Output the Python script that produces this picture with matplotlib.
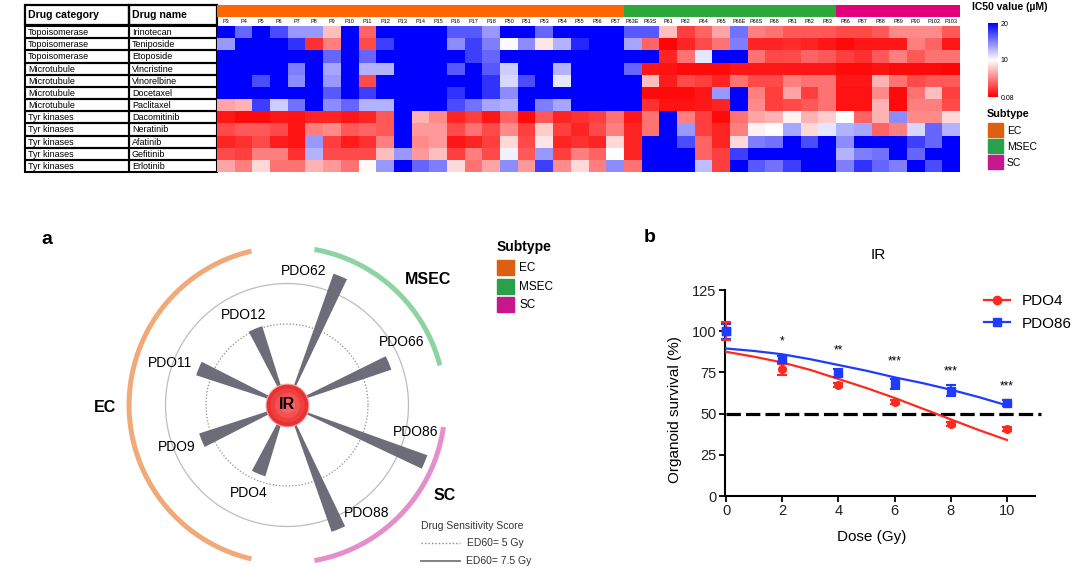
import numpy as np
import matplotlib
matplotlib.use('Agg')
import matplotlib.pyplot as plt
from matplotlib.colors import LinearSegmentedColormap, TwoSlopeNorm, ListedColormap
from matplotlib.patches import Rectangle
from matplotlib.lines import Line2D
import matplotlib.cm as cm

plt.rcParams['font.family'] = ['Liberation Sans', 'DejaVu Sans']

W, H = 1080, 571

# ---------------- data: heatmap ----------------
drug_category = ['Topoisomerase'] * 3 + ['Microtubule'] * 4 + ['Tyr kinases'] * 5
drug_name = ['Irinotecan', 'Teniposide', 'Etoposide', 'Vincristine', 'Vinorelbine',
             'Docetaxel', 'Paclitaxel', 'Dacomitinib', 'Neratinib', 'Afatinib',
             'Gefitinib', 'Erlotinib']

samples_ec = ['P3', 'P4', 'P5', 'P6', 'P7', 'P8', 'P9', 'P10', 'P11', 'P12', 'P13', 'P14',
              'P15', 'P16', 'P17', 'P18', 'P50', 'P51', 'P53', 'P54', 'P55', 'P56', 'P57']
samples_msec = ['P63E', 'P63S', 'P61', 'P62', 'P64', 'P65', 'P66E', 'P66S', 'P68',
                'P81', 'P82', 'P83']
samples_sc = ['P86', 'P87', 'P88', 'P89', 'P90', 'P102', 'P103']

# IC50 (uM), one row per drug
ic50_ec = [
    [20, 16, 20, 17, 14, 14, 7.5, 20, 4, 20, 20, 20, 20, 16.5, 16.5, 14, 20, 20, 16, 20, 20, 20, 20],
    [14, 20, 20, 20, 18, 2, 5, 20, 3, 17.5, 20, 20, 20, 14.5, 17.5, 15, 10.2, 14.5, 9, 13, 18.5, 20, 20],
    [20, 20, 20, 20, 20, 20, 16, 20, 16, 20, 20, 20, 20, 20, 17.5, 16, 20, 20, 20, 20, 20, 20, 20],
    [20, 20, 20, 20, 15, 20, 13.5, 20, 13, 13, 20, 20, 20, 16.5, 20, 16.5, 12, 20, 20, 13, 20, 20, 20],
    [20, 20, 17, 20, 14.5, 20, 14, 20, 3, 20, 20, 20, 20, 20, 20, 18, 11.5, 17, 20, 11, 20, 20, 20],
    [20, 20, 20, 20, 20, 20, 16.5, 20, 17.5, 20, 20, 20, 20, 18, 20, 18, 14.5, 20, 20, 20, 20, 20, 20],
    [6.5, 7, 17.5, 12, 15.5, 20, 14.5, 16, 13, 13, 20, 20, 20, 17, 15.5, 13.5, 13, 20, 15, 13.5, 20, 20, 20],
    [1, 0.5, 0.5, 1, 0.8, 1.5, 1.5, 1, 1.5, 3.5, 20, 7, 5.5, 1.5, 2.5, 1, 4, 0.5, 3.5, 1.5, 2, 2.5, 4.5],
    [3, 3.5, 3.5, 3, 0.8, 5, 5.5, 3.5, 4, 3.5, 20, 6, 6, 3, 4.5, 3, 5.5, 2.5, 8, 2.5, 1.5, 3, 5],
    [1.5, 2, 3, 1.2, 0.8, 14, 2.5, 1.2, 2, 5, 20, 5.5, 6, 1, 1.5, 2.5, 8.5, 3, 9, 1.5, 2, 1.5, 8.5],
    [3, 2.5, 5, 5, 2, 13, 3, 3, 3, 7.5, 14, 6, 7.5, 2.5, 5, 3, 10.5, 3.5, 14, 2.5, 5, 4, 10],
    [6.5, 5, 8.5, 4.5, 4.5, 7, 6, 4.5, 9.8, 14, 20, 16, 15, 8.5, 4.5, 6.5, 14.5, 6, 17.5, 5.5, 8.5, 5, 14.5],
]
ic50_msec = [
    [16.5, 16.5, 7.5, 2.5, 4, 6.5, 15.5, 5, 4.5, 3.5, 3.5, 3.5],
    [13.5, 4, 0.3, 1.5, 3, 4.5, 15, 1.5, 1.5, 1.8, 1.5, 1],
    [20, 20, 1.5, 4.5, 11, 20, 20, 4.5, 3, 3, 4, 3.5],
    [16, 1, 0.8, 0.5, 0.5, 0.5, 1, 1, 1, 1, 1, 1],
    [20, 7.5, 1.2, 3, 2.5, 1.5, 4.5, 3, 3, 5, 4.5, 4.5],
    [20, 0.5, 0.5, 0.5, 1, 14, 20, 5, 2.5, 6.5, 2.5, 4.5],
    [20, 2, 0.8, 0.8, 1, 1.5, 20, 5.5, 2.5, 3, 3.5, 4.5],
    [1, 4.5, 20, 5, 2.5, 0.5, 4.5, 6.5, 7, 9.5, 7, 8],
    [1.5, 4.5, 20, 14, 2.5, 1.5, 5, 9.5, 10, 13.5, 8.5, 11],
    [1.5, 20, 20, 17, 4, 1.5, 8.5, 15, 15.5, 20, 17, 20],
    [1.5, 20, 20, 20, 4, 2.5, 17.5, 20, 20, 20, 20, 20],
    [4.5, 20, 20, 20, 12.5, 2.5, 20, 16.5, 15.5, 17.5, 20, 20],
]
ic50_sc = [
    [3, 3, 3.5, 5.5, 5.5, 5.5, 3.5],
    [0.5, 1, 1, 1, 5, 4, 1],
    [2.5, 2, 3.5, 5, 3.5, 4.5, 4.5],
    [0.5, 0.5, 0.8, 0.5, 0.5, 0.5, 0.3],
    [1, 1, 7, 4.5, 3, 3.5, 3.5],
    [0.8, 0.8, 5.5, 0.5, 4.5, 7.5, 2.5],
    [0.8, 0.8, 7, 0.5, 5, 5, 3],
    [10, 4, 7, 14.5, 5.5, 5.5, 8.5],
    [13, 13.5, 4, 5, 11.5, 16, 13],
    [14.5, 20, 20, 20, 17.5, 16, 20],
    [13, 15, 15.5, 20, 16, 20, 20],
    [15, 18, 16, 15, 20, 17, 20],
]

subtypes = ['EC', 'MSEC', 'SC']

# ---------------- data: panel a ----------------
pdo_names = ['PDO66', 'PDO62', 'PDO12', 'PDO11', 'PDO9', 'PDO4', 'PDO88', 'PDO86']
pdo_ed60 = [6.8, 8.6, 5.1, 5.9, 5.7, 4.6, 8.3, 9.2]

# ---------------- data: panel b ----------------
dose = [0, 2, 4, 6, 8, 10]
pdo4_mean = [100, 77, 67.4, 57, 43.7, 40.7]
pdo4_err = [5.5, 3.3, 1, 1, 1, 1]
pdo86_mean = [100, 82.9, 74.8, 68, 63.9, 56.6]
pdo86_err = [4.5, 1.8, 2.5, 3, 3.3, 1.8]
fit_dose = [0, 1, 2, 3, 4, 5, 6, 7, 8, 9, 10]
pdo4_fit = [87.5, 84.5, 81, 76.5, 71, 65.5, 59.5, 53, 46.5, 40, 34]
pdo86_fit = [89.5, 88, 86, 83, 79.5, 76, 72, 68.5, 64.5, 60, 55]
stars = ['*', '**', '***', '***', '***']
star_y = [93.5, 88.5, 81.5, 75.5, 66.5]

# ---------------- colours ----------------
bar_cols = ['#FF6600', '#2EA83C', '#E4007C']
leg_cols = ['#DD6010', '#2BA04A', '#C8168C']
arc_cols = ['#F0AA7A', '#8ED3A2', '#E48FCB']
red, blue = '#FF2A1F', '#1F3BFF'


def fig_rect(x0, y0, x1, y1):
    # pixel box (top-left origin) -> figure fraction
    return [x0 / W, 1 - y1 / H, (x1 - x0) / W, (y1 - y0) / H]


fig = plt.figure(figsize=(W / 100, H / 100), dpi=100)
fig.patch.set_facecolor('white')

# ---------------- table ----------------
ax_t = fig.add_axes(fig_rect(25, 5, 217, 172))
ax_t.set_xlim(25, 217)
ax_t.set_ylim(172, 5)
ax_t.axis('off')
x_split = 129
row_top = 26
row_h = (172 - 26) / len(drug_name)
for (x0, x1) in [(25, x_split), (x_split, 217)]:
    ax_t.add_patch(Rectangle((x0, 5), x1 - x0, 20, fill=False, ec='black', lw=1.6, clip_on=False))
ax_t.text(28, 15.5, 'Drug category', fontsize=7.6, fontweight='bold', va='center')
ax_t.text(x_split + 3, 15.5, 'Drug name', fontsize=7.6, fontweight='bold', va='center')
for i, (cat, name) in enumerate(zip(drug_category, drug_name)):
    y0 = row_top + i * row_h
    for (x0, x1) in [(25, x_split), (x_split, 217)]:
        ax_t.add_patch(Rectangle((x0, y0), x1 - x0, row_h, fill=False, ec='black', lw=1.5,
                                 clip_on=False))
    ax_t.text(28, y0 + row_h / 2 + 0.5, cat, fontsize=6.5, va='center')
    ax_t.text(x_split + 3, y0 + row_h / 2 + 0.5, name, fontsize=6.5, va='center')

# ---------------- heatmap ----------------
samples = samples_ec + samples_msec + samples_sc
ic50 = np.hstack([np.array(ic50_ec), np.array(ic50_msec), np.array(ic50_sc)])
cmap = LinearSegmentedColormap.from_list('rwb', ['#FF0000', '#FFFFFF', '#0000FF'])
norm = TwoSlopeNorm(vmin=0.08, vcenter=10, vmax=20)

ax_h = fig.add_axes(fig_rect(217, 26, 960, 172))
ax_h.pcolormesh(ic50, cmap=cmap, norm=norm)
ax_h.set_xlim(0, len(samples))
ax_h.set_ylim(len(drug_name), 0)
ax_h.axis('off')
for i, s in enumerate(samples):
    ax_h.text(i + 0.5, -0.4, s, fontsize=4, ha='center', va='center', clip_on=False)

ax_s = fig.add_axes(fig_rect(217, 5, 960, 17))
sub_idx = [0] * len(samples_ec) + [1] * len(samples_msec) + [2] * len(samples_sc)
ax_s.pcolormesh(np.array([sub_idx]), cmap=ListedColormap(bar_cols), vmin=-0.5, vmax=2.5)
ax_s.axis('off')

# colour bar
ax_cb = fig.add_axes(fig_rect(988, 23, 998, 97))
sm = cm.ScalarMappable(norm=norm, cmap=cmap)
cb = fig.colorbar(sm, cax=ax_cb, ticks=[0.08, 10, 20])
cb.ax.set_yticklabels(['0.08', '10', '20'])
cb.ax.tick_params(length=0, labelsize=5, pad=2)
cb.outline.set_visible(False)

# ---------------- overlay for text / legends ----------------
ov = fig.add_axes([0, 0, 1, 1])
ov.set_xlim(0, W)
ov.set_ylim(H, 0)
ov.axis('off')
ov.set_zorder(10)

ov.text(972, 7, 'IC50 value (µM)', fontsize=7.5, fontweight='bold', va='center')
ov.text(987, 114, 'Subtype', fontsize=7.8, fontweight='bold', va='center')
for k, lab in enumerate(subtypes):
    y0 = 123 + k * 16
    ov.add_patch(Rectangle((988, y0), 15, 14, color=leg_cols[k]))
    ov.text(1007, y0 + 7.5, lab, fontsize=7.5, va='center')

# ---------------- panel a ----------------
ax_p = fig.add_axes(fig_rect(125, 243, 449, 567), projection='polar')
ax_p.set_ylim(0, 10)
ax_p.axis('off')
theta_full = np.linspace(0, 2 * np.pi, 400)
ax_p.plot(theta_full, np.full_like(theta_full, 5), ls=(0, (1, 1.6)), color='#8C8C8C', lw=0.9, zorder=1)
ax_p.plot(theta_full, np.full_like(theta_full, 7.5), color='#BDBDBD', lw=0.9, zorder=1)

angles = np.deg2rad(22.5 + 45 * np.arange(len(pdo_names)))
ed60 = np.array(pdo_ed60)
ax_p.bar(angles, ed60, width=0.9 / ed60, bottom=0, color='#6C6D78', zorder=3)

label_pos = [(28.7, 8.1), (82.8, 8.35), (115.8, 6.2), (160.3, 7.7),
             (200.9, 7.3), (246.6, 5.9), (306.5, 8.3), (348.0, 8.1)]
for name, (ang, rr) in zip(pdo_names, label_pos):
    ax_p.text(np.deg2rad(ang), rr, name, fontsize=10, ha='center', va='center', zorder=4)

arc_span = [(103, 257), (14.5, 80), (280, 352)]
for (a0, a1), c in zip(arc_span, arc_cols):
    th = np.deg2rad(np.linspace(a0, a1, 200))
    ax_p.plot(th, np.full_like(th, 9.75), color=c, lw=3.6, solid_capstyle='butt', zorder=2)

# IR centre
ax_p.scatter([0], [0], s=1000, color='#F6A6A6', zorder=5, lw=0)
for s, c in [(900, '#E83232'), (600, '#EE4040'), (330, '#F45252'), (120, '#F86464')]:
    ax_p.scatter([0], [0], s=s, color=c, zorder=5, lw=0)
ax_p.text(0, 0, 'IR', fontsize=11.5, fontweight='bold', ha='center', va='center', zorder=6)

ov.text(47, 240, 'a', fontsize=14, fontweight='bold', va='center', ha='center')
ov.text(105, 408, 'EC', fontsize=11.5, fontweight='bold', ha='center', va='center')
ov.text(428, 280, 'MSEC', fontsize=11.5, fontweight='bold', ha='center', va='center')
ov.text(445, 495, 'SC', fontsize=11.5, fontweight='bold', ha='center', va='center')

ov.text(497, 247, 'Subtype', fontsize=10, fontweight='bold', va='center')
for k, lab in enumerate(subtypes):
    y0 = 260 + k * 18.5
    ov.add_patch(Rectangle((497, y0), 17, 15, color=leg_cols[k]))
    ov.text(519, y0 + 8, lab, fontsize=8.5, va='center')

ov.text(421, 526, 'Drug Sensitivity Score', fontsize=7.5, color='#333333', va='center')
ov.add_line(Line2D([421, 460], [543, 543], ls=(0, (1, 1.5)), color='#888888', lw=1))
ov.add_line(Line2D([421, 460], [561, 561], color='#777777', lw=1.3))
ov.text(467, 543, 'ED60= 5 Gy', fontsize=7.5, color='#333333', va='center')
ov.text(466, 561, 'ED60= 7.5 Gy', fontsize=7.5, color='#333333', va='center')

# ---------------- panel b ----------------
ax_b = fig.add_axes(fig_rect(725, 290, 1035, 496))
ax_b.set_xlim(-0.04, 11)
ax_b.set_ylim(0, 125)
for sp in ['top', 'right']:
    ax_b.spines[sp].set_visible(False)
for sp in ['left', 'bottom']:
    ax_b.spines[sp].set_linewidth(1.5)
ax_b.set_xticks([0, 2, 4, 6, 8, 10])
ax_b.set_yticks([0, 25, 50, 75, 100, 125])
ax_b.tick_params(direction='out', length=4, width=1.3, labelsize=10.5, labelcolor='#222222', pad=2)

ax_b.axhline(50, xmin=0.004, xmax=1.02, color='black', lw=2.3, ls=(0, (4.5, 1.6)), clip_on=False, zorder=2)
ax_b.plot(fit_dose, pdo86_fit, color=blue, lw=1.6, zorder=3)
ax_b.plot(fit_dose, pdo4_fit, color=red, lw=1.6, zorder=3)
for mean, err, mk, col, ms in [(pdo86_mean, pdo86_err, 's', blue, 6),
                               (pdo4_mean, pdo4_err, 'o', red, 5.5)]:
    eb = ax_b.errorbar(dose, mean, yerr=err, fmt=mk, color=col, ms=ms, capsize=3.5,
                       elinewidth=1.5, capthick=1.5, zorder=4)
    for art in eb.get_children():
        art.set_clip_on(False)
ax_b.scatter(dose[:1], pdo86_mean[:1], marker='s', s=36, color=blue, zorder=5, clip_on=False)
for xd, st, ys in zip(dose[1:], stars, star_y):
    ax_b.text(xd, ys, st, fontsize=8.5, ha='center', va='center')

handles = [Line2D([], [], color=red, marker='o', ms=6, lw=1.6),
           Line2D([], [], color=blue, marker='s', ms=6, lw=1.6)]
ax_b.legend(handles, ['PDO4', 'PDO86'], loc='upper left', bbox_to_anchor=(0.835, 0.98),
            frameon=False, fontsize=11, handlelength=1.7, handletextpad=0.8,
            labelspacing=0.55, borderaxespad=0, borderpad=0)

ov.text(650, 238, 'b', fontsize=14, fontweight='bold', va='center', ha='center')
ov.text(878, 255, 'IR', fontsize=11, ha='center', va='center')
ov.text(675, 410, 'Organoid survival (%)', fontsize=11, rotation=90, ha='center', va='center')
ov.text(872, 537, 'Dose (Gy)', fontsize=11, ha='center', va='center')

fig.savefig('out.png', dpi=100)
